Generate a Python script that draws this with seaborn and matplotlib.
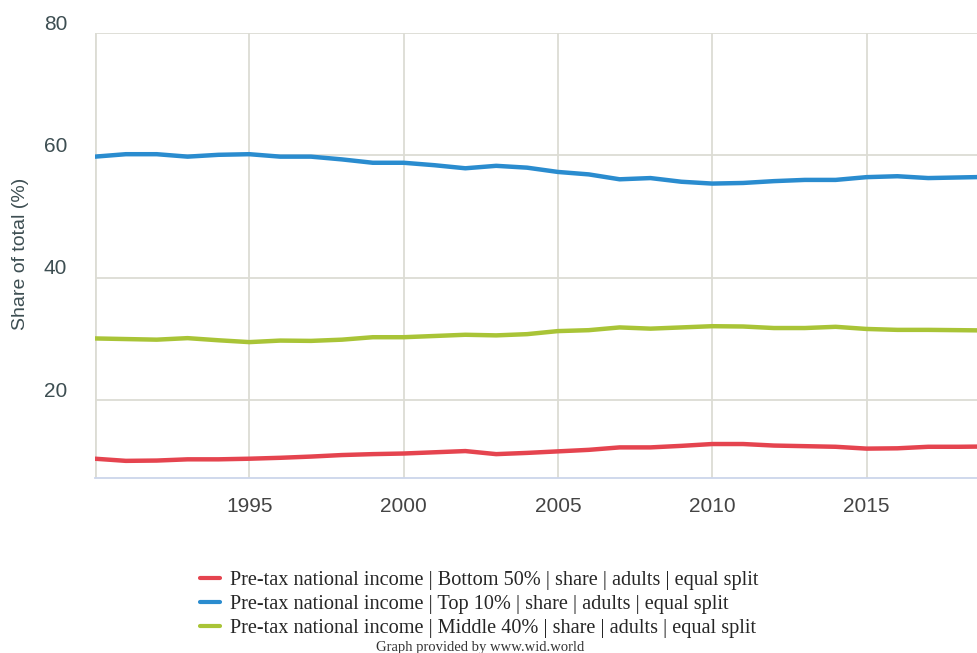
import numpy as np
import pandas as pd
import matplotlib
matplotlib.use("Agg")
import matplotlib.pyplot as plt
import matplotlib.transforms as mtransforms
from matplotlib.lines import Line2D
import seaborn as sns

years = list(range(1990, 2020))

bottom50 = [10.45, 10.1, 10.15, 10.35, 10.35, 10.45, 10.6, 10.8, 11.05, 11.2,
            11.3, 11.5, 11.7, 11.2, 11.4, 11.65, 11.9, 12.3, 12.3, 12.55,
            12.85, 12.85, 12.6, 12.5, 12.4, 12.1, 12.15, 12.4, 12.4, 12.45]
top10 = [59.8, 60.2, 60.2, 59.8, 60.1, 60.2, 59.8, 59.8, 59.35, 58.8,
         58.8, 58.4, 57.9, 58.3, 58.0, 57.3, 56.9, 56.1, 56.3, 55.7,
         55.4, 55.5, 55.8, 56.0, 56.0, 56.45, 56.6, 56.3, 56.4, 56.5]
middle40 = [30.1, 30.0, 29.9, 30.15, 29.8, 29.5, 29.75, 29.7, 29.9, 30.3,
            30.3, 30.5, 30.7, 30.6, 30.8, 31.3, 31.45, 31.9, 31.7, 31.9,
            32.1, 32.05, 31.8, 31.8, 32.0, 31.65, 31.5, 31.5, 31.45, 31.4]

labels = [
    "Pre-tax national income | Bottom 50% | share | adults | equal split",
    "Pre-tax national income | Top 10% | share | adults | equal split",
    "Pre-tax national income | Middle 40% | share | adults | equal split",
]
colors = ["#e5444f", "#2a8ccf", "#a9c437"]
yticks = [20, 40, 60, 80]
xticks = [1995, 2000, 2005, 2010, 2015]

df = pd.DataFrame({"year": years * 3,
                   "value": bottom50 + top10 + middle40,
                   "series": [labels[0]] * len(years) + [labels[1]] * len(years) + [labels[2]] * len(years)})

sns.set_style("white")
plt.rcParams["font.family"] = ["Liberation Sans", "DejaVu Sans"]

W, H = 977, 653
fig = plt.figure(figsize=(W / 100, H / 100), dpi=100)
ax = fig.add_axes([95 / W, (H - 478) / H, (977 - 95) / W, (478 - 33) / H])

grid_c = "#dcdcd4"
sns.lineplot(data=df, x="year", y="value", hue="series", palette=colors,
             linewidth=3.2, ax=ax, legend=False, zorder=3)

ax.set_xlim(1990, 2018.58)
ax.set_ylim(7.3, 80)
ax.set_xticks(xticks)
ax.set_yticks(yticks)
ax.grid(True, color=grid_c, linewidth=1.3, zorder=0)
ax.axvline(1990, color=grid_c, linewidth=2, zorder=0)
for s in ["top", "right", "left"]:
    ax.spines[s].set_visible(False)
ax.spines["bottom"].set_color("#ccd6eb")
ax.spines["bottom"].set_linewidth(1.3)
ax.tick_params(axis="x", length=11, width=1.3, color=grid_c, pad=3,
               labelsize=15, labelcolor="#444444")
ax.tick_params(axis="y", length=0, pad=20, labelsize=15, labelcolor="#3d4e52")
for lab in ax.get_yticklabels():
    lab.set_transform(lab.get_transform() + mtransforms.ScaledTranslation(0, 0.11, fig.dpi_scale_trans))
ax.set_xlabel("")
ax.set_ylabel("Share of total (%)", fontsize=14, color="#3d4e52")
ax.yaxis.set_label_coords(29 / W, 1 - 254 / H, transform=fig.transFigure)

handles = [Line2D([0], [0], color=c, linewidth=3) for c in colors]
fig.legend(handles, labels, loc="upper left", bbox_to_anchor=(190 / W, 1 - 561 / H),
           frameon=False, prop={"family": "Liberation Serif", "size": 14.6},
           handlelength=1.0, handletextpad=0.45, labelspacing=0.22, borderpad=0)
fig.text(480 / W, 1 - 647 / H, "Graph provided by www.wid.world", ha="center", va="center",
         family="Liberation Serif", fontsize=10.5, color="#333333")

fig.savefig("out.png", dpi=100)
